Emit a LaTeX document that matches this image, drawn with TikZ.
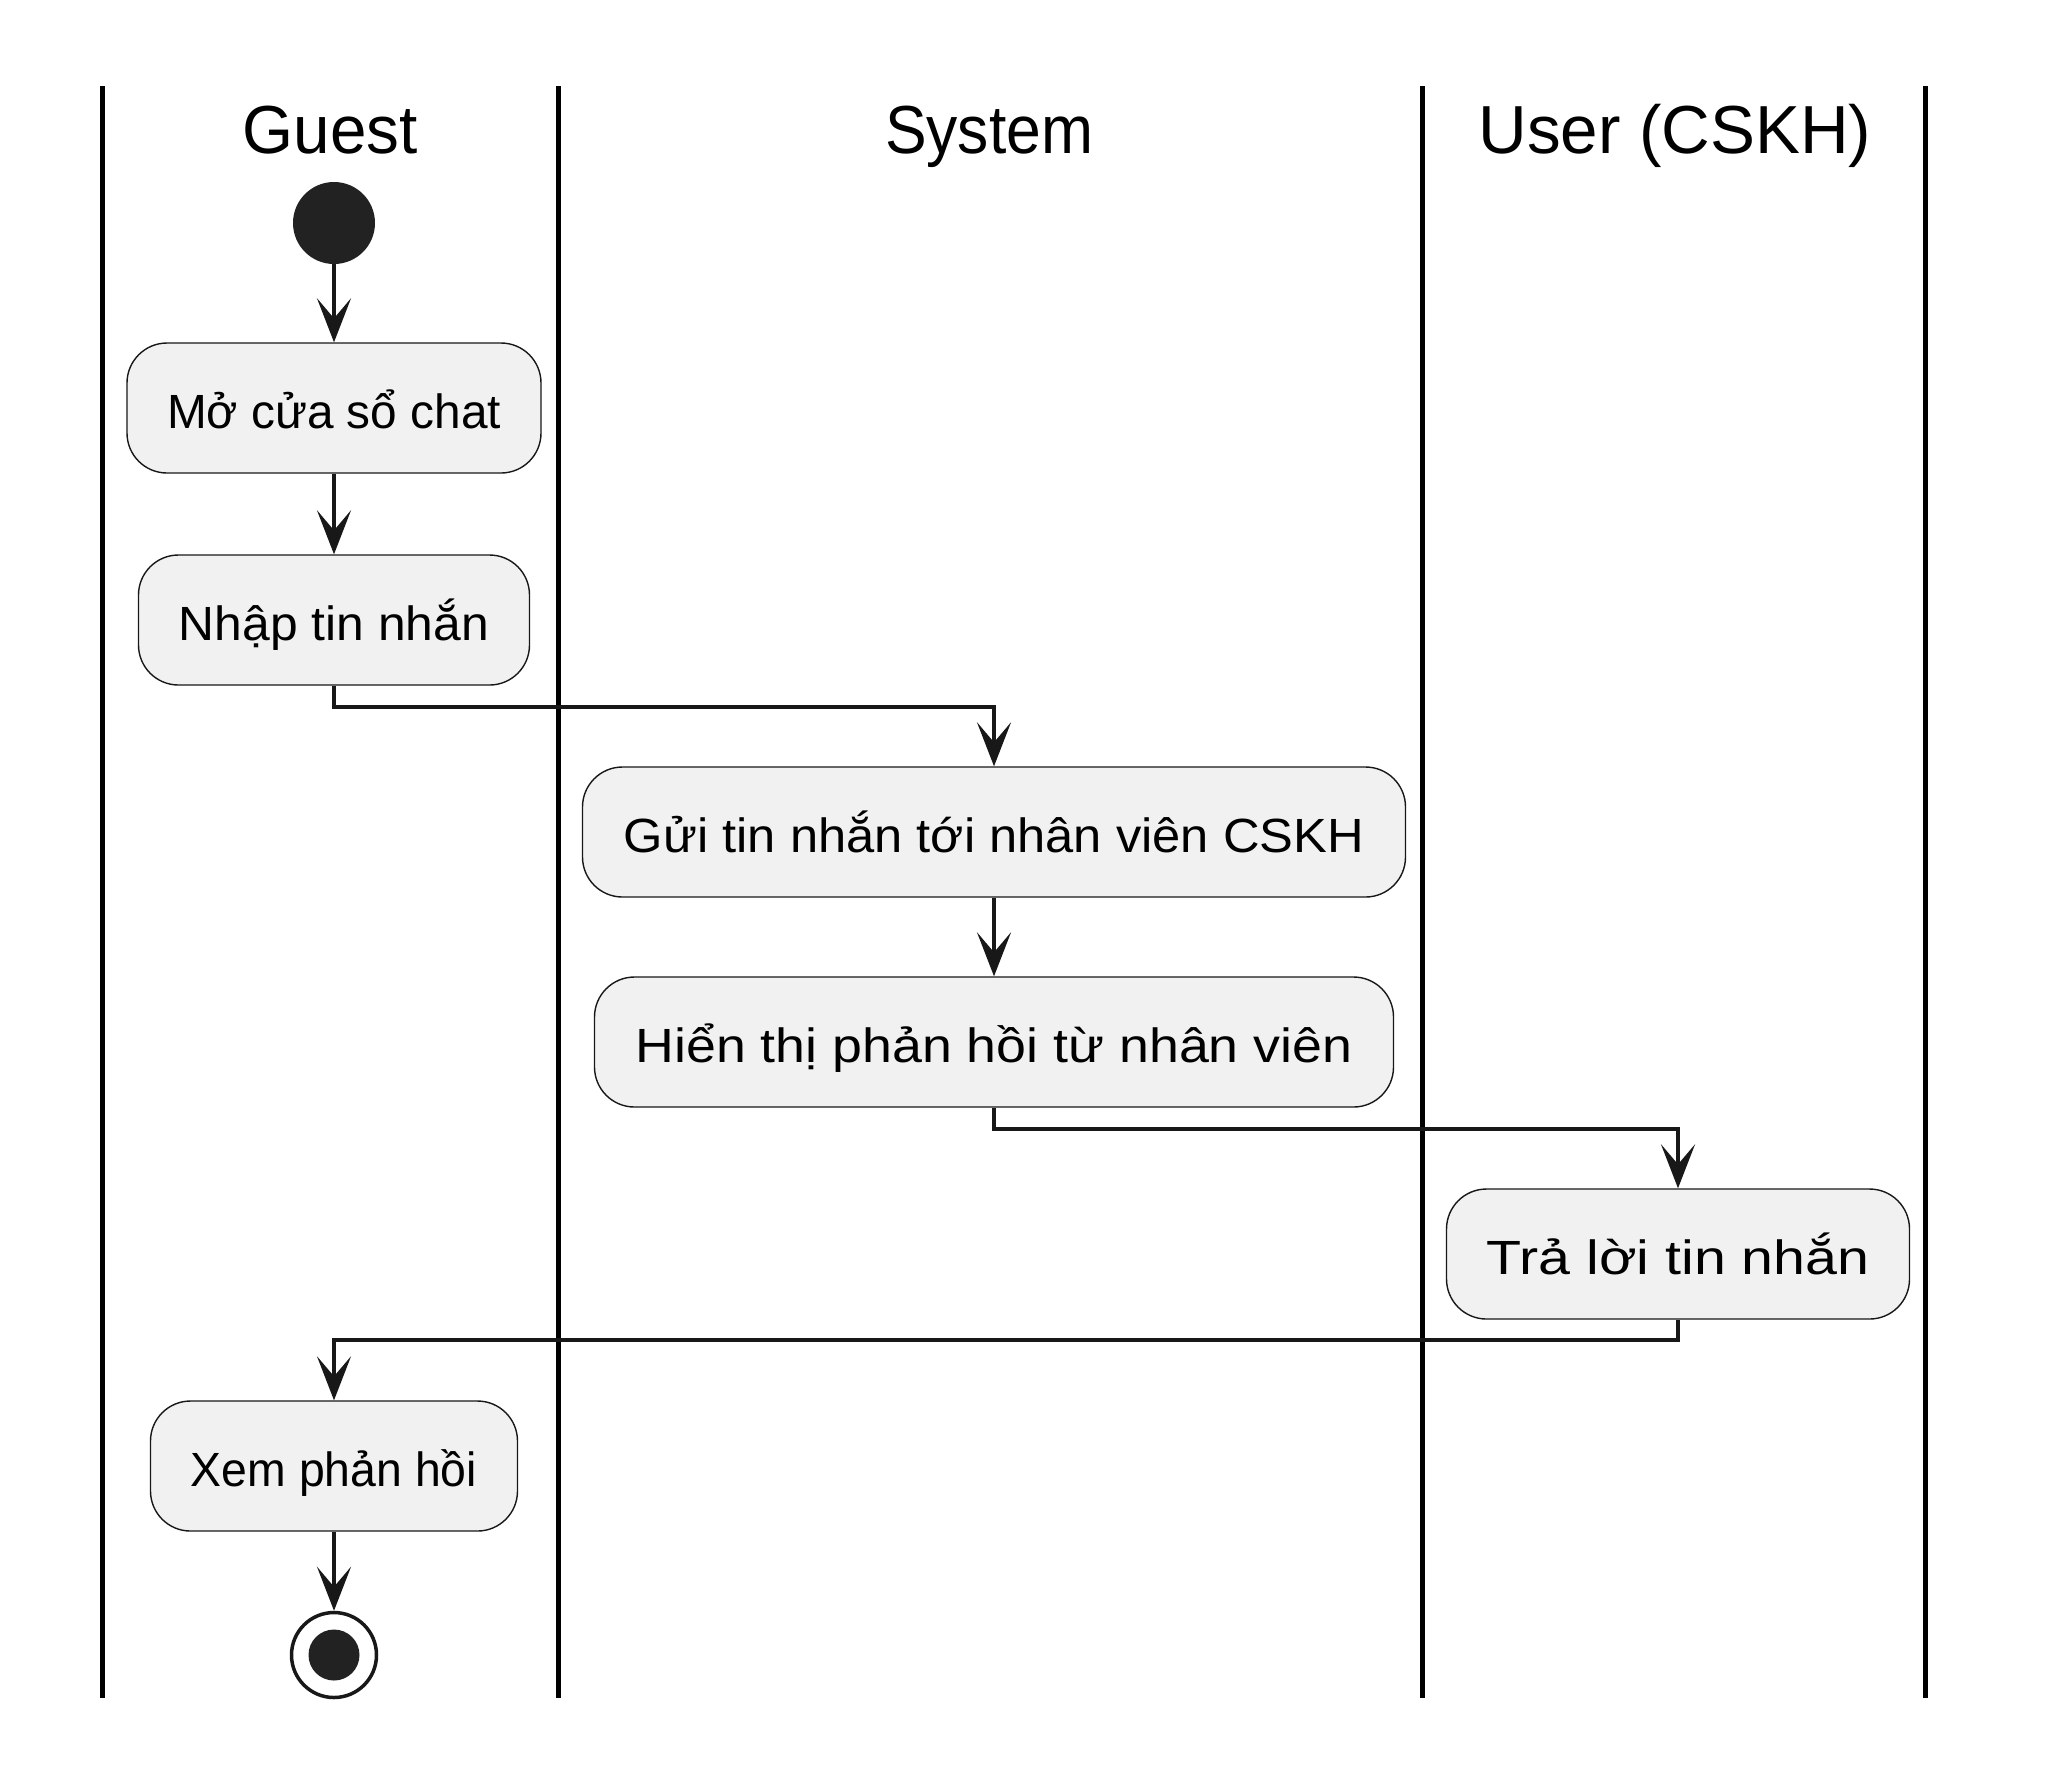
\documentclass[tikz,border=0pt]{standalone}
\usepackage{fontspec}
\usepackage{graphicx}
\setmainfont{Liberation Sans}
\usetikzlibrary{arrows.meta}

\definecolor{boxfill}{HTML}{F1F1F1}
\definecolor{ink}{HTML}{181818}
\definecolor{dot}{HTML}{222222}

% stretch a text to a given width, keeping its height
\newcommand{\fitto}[2]{\resizebox{#1}{\height}{#2}}

\begin{document}
\begin{tikzpicture}[x=0.5pt, y=-0.5pt,
  lane/.style={line width=2.5pt, black},
  title/.style={inner sep=0pt, text height=24.5pt, text depth=0pt, font=\fontsize{34}{40}\selectfont},
  act/.style={rounded corners=20pt, draw=ink, fill=boxfill, line width=0.7pt, inner sep=0pt,
    minimum height=65pt, text height=20pt, text depth=0pt, font=\fontsize{24}{28}\selectfont},
  flow/.style={ink, line width=2pt, -{Stealth[length=22pt,width=17pt,inset=10pt]}}]

\useasboundingbox (0,0) rectangle (2048,1784);

% swimlanes
\draw[lane] (102,86) -- (102,1698);
\draw[lane] (558,86) -- (558,1698);
\draw[lane] (1422,86) -- (1422,1698);
\draw[lane] (1925,86) -- (1925,1698);

\node[title] (tGuest) at (330,129) {\fitto{87.5pt}{Guest}};
\node[title] (tSystem) at (989,129) {\fitto{104pt}{System}};
\node[title] (tUser) at (1675,129) {\fitto{196.5pt}{User (CSKH)}};

% activities
\node[circle, fill=dot, inner sep=0pt, minimum size=41pt] (start) at (334,223) {};
\node[act, minimum width=207pt] (open) at (334,408) {\fitto{167pt}{Mở cửa sổ chat}};
\node[act, minimum width=195.5pt] (type) at (334,620) {\fitto{155pt}{Nhập tin nhắn}};
\node[act, minimum width=411.5pt] (send) at (994,832) {\fitto{370pt}{Gửi tin nhắn tới nhân viên CSKH}};
\node[act, minimum width=399.5pt] (show) at (994,1042) {\fitto{358.5pt}{Hiển thị phản hồi từ nhân viên}};
\node[act, minimum width=231.5pt] (reply) at (1678,1254) {\fitto{191.5pt}{Trả lời tin nhắn}};
\node[act, minimum width=183.5pt] (view) at (334,1466) {\fitto{143pt}{Xem phản hồi}};
\node[circle, draw=ink, line width=1.75pt, inner sep=0pt, minimum size=42.5pt] (stop) at (334,1655) {};
\fill[dot] (stop.center) circle (12.75pt);

% flows
\draw[flow] (start) -- (open);
\draw[flow] (open) -- (type);
\draw[flow] (type.south) -- ++(0,21) -| (send.north);
\draw[flow] (send) -- (show);
\draw[flow] (show.south) -- ++(0,21) -| (reply.north);
\draw[flow] (reply.south) -- ++(0,20) -| (view.north);
\draw[flow] (view) -- (stop);
\end{tikzpicture}
\end{document}
